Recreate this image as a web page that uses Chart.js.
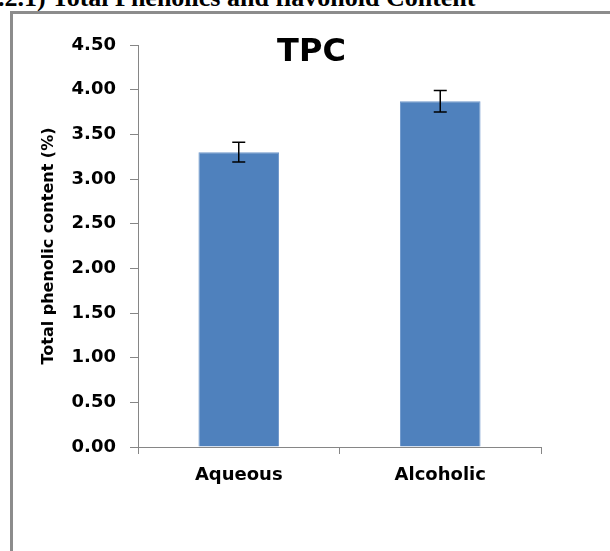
<!DOCTYPE html>
<html>
<head>
<meta charset="utf-8">
<script src="https://cdn.jsdelivr.net/npm/chart.js@4/dist/chart.umd.min.js"></script>
<style>
  html, body { margin: 0; padding: 0; width: 610px; height: 551px; overflow: hidden; background: #fff; }
  #heading { position: absolute; left: -2px; top: -15px; font-family: "Liberation Serif", "Times New Roman", serif; font-weight: bold; font-size: 26px; line-height: 26px; white-space: nowrap; color: #000; }
  #frame { position: absolute; left: 10px; top: 11px; width: 700px; height: 700px; border-left: 3px solid #8c8c8c; border-top: 3px solid #8c8c8c; }
  #c { position: absolute; left: 0; top: 0; }
</style>
</head>
<body>
<div id="heading">.2.1) Total Phenolics and flavonoid Content</div>
<div id="frame"></div>
<canvas id="c" width="610" height="551"></canvas>
<script>
const chartTitle = "TPC";
const categories = ["Aqueous", "Alcoholic"];
const tpcValues = [3.30, 3.87];
const tpcErrors = [0.11, 0.12];
const yAxisTitle = "Total phenolic content (%)";
const yMin = 0, yMax = 4.5, yStep = 0.5;

const FONT = "'DejaVu Sans', Verdana, sans-serif";
const AXIS_GRAY = "#868686";

const errorBarPlugin = {
  id: "errorBars",
  afterDatasetsDraw(chart) {
    const meta = chart.getDatasetMeta(0);
    const ys = chart.scales.y;
    const ctx = chart.ctx;
    ctx.save();
    ctx.strokeStyle = "#000";
    ctx.lineWidth = 1.5;
    meta.data.forEach((bar, i) => {
      const v = tpcValues[i], e = tpcErrors[i];
      const x = bar.x;
      const yt = ys.getPixelForValue(v + e);
      const yb = ys.getPixelForValue(v - e);
      ctx.beginPath();
      ctx.moveTo(x, yt); ctx.lineTo(x, yb);
      ctx.moveTo(x - 6.5, yt); ctx.lineTo(x + 6.5, yt);
      ctx.moveTo(x - 6.5, yb); ctx.lineTo(x + 6.5, yb);
      ctx.stroke();
    });
    ctx.restore();
  }
};

const titlePlugin = {
  id: "overlayTitle",
  afterDraw(chart) {
    const ctx = chart.ctx;
    ctx.save();
    ctx.font = "bold 32px " + FONT;
    ctx.fillStyle = "#000";
    ctx.textAlign = "center";
    ctx.textBaseline = "middle";
    ctx.fillText(chartTitle, 311.5, 53);
    ctx.restore();
  }
};

new Chart(document.getElementById("c"), {
  type: "bar",
  data: {
    labels: categories,
    datasets: [{
      data: tpcValues,
      backgroundColor: "#4F81BD",
      borderColor: "#6E97CB",
      borderWidth: 1,
      barPercentage: 0.4,
      categoryPercentage: 1.0
    }]
  },
  options: {
    responsive: false,
    animation: false,
    layout: { padding: { top: 45, right: 69, left: 0, bottom: 0 } },
    plugins: { legend: { display: false }, title: { display: false }, tooltip: { enabled: false } },
    scales: {
      x: {
        grid: { display: true, drawOnChartArea: false, drawTicks: true, tickLength: 7, color: AXIS_GRAY, offset: true },
        border: { color: AXIS_GRAY, width: 1 },
        ticks: { color: "#000", font: { family: FONT, weight: "bold", size: 18 }, padding: 11, maxRotation: 0 },
        afterFit(s) { s.height = 104; }
      },
      y: {
        min: yMin, max: yMax,
        grid: { display: true, drawOnChartArea: false, drawTicks: true, tickLength: 8, color: AXIS_GRAY },
        border: { color: AXIS_GRAY, width: 1 },
        ticks: { stepSize: yStep, color: "#000", font: { family: FONT, weight: "bold", size: 18 }, padding: 14,
                 callback: v => Number(v).toFixed(2) },
        title: { display: true, text: yAxisTitle, color: "#000", font: { family: FONT, weight: "bold", size: 16 }, padding: { top: 39, bottom: 0 } },
        afterFit(s) { s.width = 138; }
      }
    }
  },
  plugins: [errorBarPlugin, titlePlugin]
});
</script>
</body>
</html>
